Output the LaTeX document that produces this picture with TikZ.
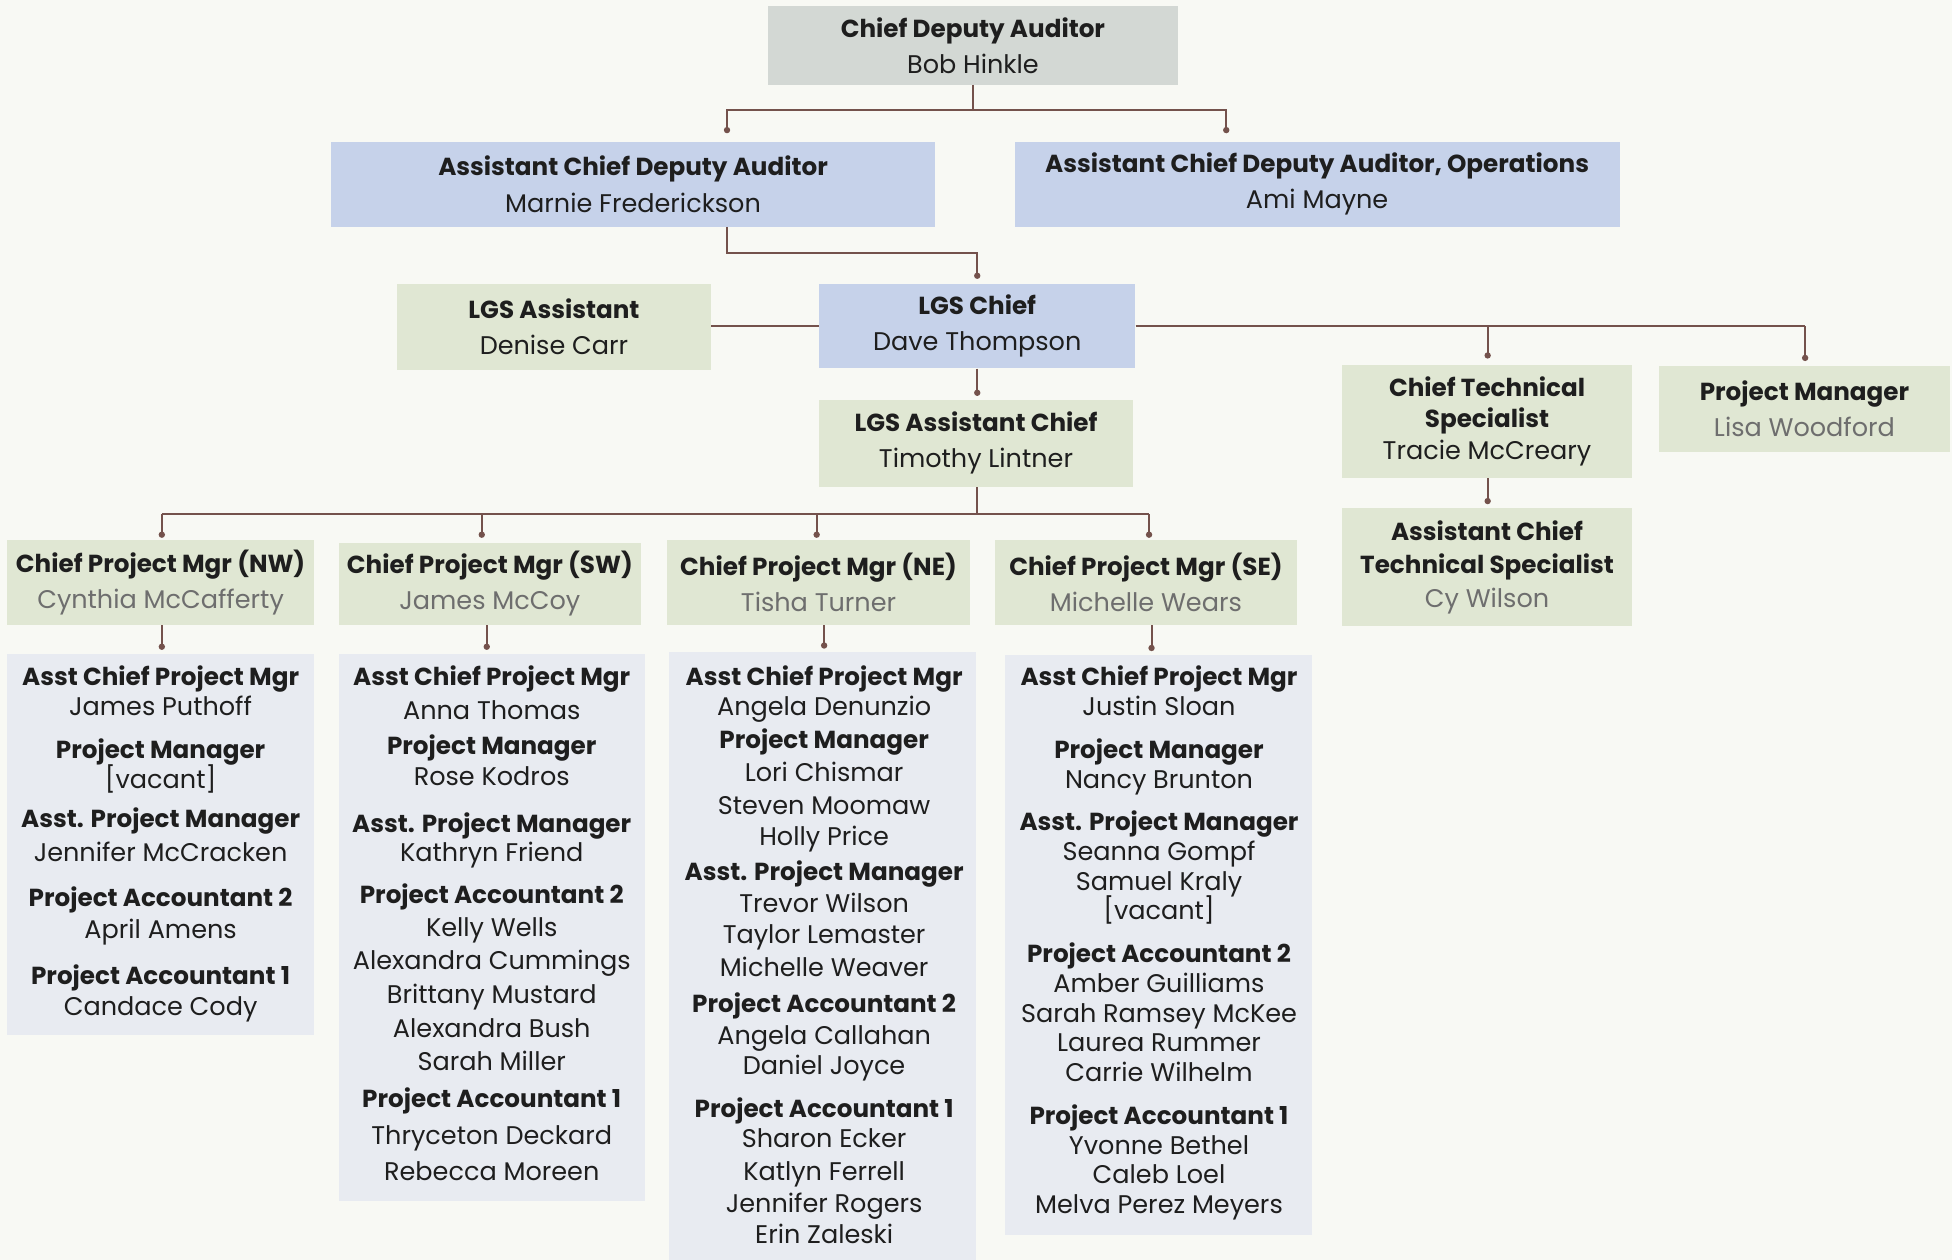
\documentclass[tikz,border=0pt]{standalone}
\usepackage{fontspec}
\setmainfont{Poppins}
\usetikzlibrary{arrows.meta}
\definecolor{bgc}{HTML}{F8F9F4}
\definecolor{topc}{HTML}{D3D8D4}
\definecolor{bluec}{HTML}{C6D2EA}
\definecolor{greenc}{HTML}{E0E7D3}
\definecolor{listc}{HTML}{E8EBF1}
\definecolor{linec}{HTML}{74524C}
\definecolor{txtc}{HTML}{1E1E1E}
\definecolor{grayt}{HTML}{6E6E6E}
\newcommand{\ttl}[1]{{\fontsize{19.8}{29}\selectfont\bfseries #1}}
\newcommand{\gn}[1]{\textcolor{grayt}{#1}}
\begin{document}
\begin{tikzpicture}[x=1pt,y=-1pt,
  box/.style={draw=none,inner sep=0pt,align=center,text=txtc,
    font=\fontsize{20.5}{29}\selectfont},
  gbox/.style={box,fill=greenc},
  bbox/.style={box,fill=bluec},
  lbox/.style={draw=none,fill=listc,inner sep=0pt},
  ltxt/.style={inner sep=0pt,anchor=base,yshift=-7pt,text=txtc,font=\fontsize{20.5}{24}\selectfont},
  conn/.style={draw=linec,line width=1.6pt,-{Circle[length=5pt,width=5pt]}},
  plain/.style={draw=linec,line width=1.6pt}]
\fill[bgc] (0,0) rectangle (1568,1012);
\useasboundingbox (0,0) rectangle (1568,1012);

% top levels
\node[box,fill=topc,minimum width=329pt,minimum height=63pt] (cda) at (781.5,36.5)
  {\ttl{Chief Deputy Auditor}\\Bob Hinkle};
\node[bbox,minimum width=485pt,minimum height=68pt] (acda) at (508.5,148)
  {\ttl{Assistant Chief Deputy Auditor}\\Marnie Frederickson};
\node[bbox,minimum width=486pt,minimum height=68pt] (acdao) at (1058,148)
  {\ttl{Assistant Chief Deputy Auditor, Operations}\\Ami Mayne};
\node[bbox,minimum width=254pt,minimum height=68pt] (lgsc) at (785,262)
  {\ttl{LGS Chief}\\Dave Thompson};
\node[gbox,minimum width=252pt,minimum height=69pt] (lgsa) at (445,262.5)
  {\ttl{LGS Assistant}\\Denise Carr};
\node[gbox,minimum width=252pt,minimum height=70pt] (lgsac) at (784,356)
  {\ttl{LGS Assistant Chief}\\Timothy Lintner};
\node[gbox,minimum width=233pt,minimum height=91pt,font=\fontsize{20.5}{25}\selectfont] (cts) at (1194.5,338.5)
  {\ttl{Chief Technical}\\\ttl{Specialist}\\Tracie McCreary};
\node[gbox,minimum width=233pt,minimum height=69pt] (pm) at (1449.5,328.5)
  {\ttl{Project Manager}\\\gn{Lisa Woodford}};
\node[gbox,minimum width=233pt,minimum height=95pt,font=\fontsize{20.5}{27}\selectfont] (acts) at (1194.5,455.5)
  {\ttl{Assistant Chief}\\\ttl{Technical Specialist}\\\gn{Cy Wilson}};

\node[gbox,minimum width=246pt,minimum height=68pt] (nw) at (129,468)
  {\ttl{Chief Project Mgr (NW)}\\\gn{Cynthia McCafferty}};
\node[gbox,minimum width=243pt,minimum height=66pt] (sw) at (393.5,469)
  {\ttl{Chief Project Mgr (SW)}\\\gn{James McCoy}};
\node[gbox,minimum width=243pt,minimum height=68pt] (ne) at (657.5,468)
  {\ttl{Chief Project Mgr (NE)}\\\gn{Tisha Turner}};
\node[gbox,minimum width=243pt,minimum height=68pt] (se) at (920.5,468)
  {\ttl{Chief Project Mgr (SE)}\\\gn{Michelle Wears}};

% list boxes
\node[lbox,minimum width=246pt,minimum height=306pt] (nwl) at (129,678) {};
\node[lbox,minimum width=246pt,minimum height=440pt] (swl) at (395,745) {};
\node[lbox,minimum width=247pt,minimum height=488pt] (nel) at (660.5,768) {};
\node[lbox,minimum width=247pt,minimum height=466pt] (sel) at (930.5,759) {};

% list texts
\foreach \t/\y [count=\i] in {
  \ttl{Asst Chief Project Mgr}/544, James Puthoff/568,
  \ttl{Project Manager}/602, {[vacant]}/626,
  \ttl{Asst. Project Manager}/658, Jennifer McCracken/685,
  \ttl{Project Accountant 2}/721, April Amens/747,
  \ttl{Project Accountant 1}/784, Candace Cody/809}
  \node[ltxt] (nwt\i) at (129,\y) {\t};

\foreach \t/\y [count=\i] in {
  \ttl{Asst Chief Project Mgr}/544, Anna Thomas/571,
  \ttl{Project Manager}/599, Rose Kodros/624,
  \ttl{Asst. Project Manager}/662, Kathryn Friend/685,
  \ttl{Project Accountant 2}/719, Kelly Wells/745,
  Alexandra Cummings/772, Brittany Mustard/799,
  Alexandra Bush/826, Sarah Miller/853,
  \ttl{Project Accountant 1}/883, Thryceton Deckard/912,
  Rebecca Moreen/941}
  \node[ltxt] (swt\i) at (395,\y) {\t};

\foreach \t/\y [count=\i] in {
  \ttl{Asst Chief Project Mgr}/544, Angela Denunzio/568,
  \ttl{Project Manager}/594, Lori Chismar/621,
  Steven Moomaw/647, Holly Price/672,
  \ttl{Asst. Project Manager}/700, Trevor Wilson/726,
  Taylor Lemaster/751, Michelle Weaver/777,
  \ttl{Project Accountant 2}/806, Angela Callahan/832,
  Daniel Joyce/856, \ttl{Project Accountant 1}/891,
  Sharon Ecker/915, Katlyn Ferrell/941,
  Jennifer Rogers/967, Erin Zaleski/992}
  \node[ltxt] (net\i) at (662,\y) {\t};

\foreach \t/\y [count=\i] in {
  \ttl{Asst Chief Project Mgr}/544, Justin Sloan/568,
  \ttl{Project Manager}/602, Nancy Brunton/626,
  \ttl{Asst. Project Manager}/660, Seanna Gompf/684,
  Samuel Kraly/708, {[vacant]}/732,
  \ttl{Project Accountant 2}/766, Amber Guilliams/790,
  Sarah Ramsey McKee/814, Laurea Rummer/838,
  Carrie Wilhelm/862, \ttl{Project Accountant 1}/896,
  Yvonne Bethel/920, Caleb Loel/944,
  Melva Perez Meyers/968}
  \node[ltxt] (set\i) at (931,\y) {\t};

% connector end points
\coordinate (e1) at (584,107);
\coordinate (e2) at (985,107);
\coordinate (e3) at (785,224);
\coordinate (e4) at (1195,288);
\coordinate (e5) at (1450,290);
\coordinate (e6) at (785,318);
\coordinate (e7) at (1195,405);
\coordinate (f1) at (130,432);
\coordinate (f2) at (387,432);
\coordinate (f3) at (656,432);
\coordinate (f4) at (923,432);
\coordinate (g1) at (130,522);
\coordinate (g2) at (391,522);
\coordinate (g3) at (662,521);
\coordinate (g4) at (925,523);
\coordinate (hb) at (785,413);

% connectors
\draw[conn] (cda.south) -- ++(0,20) -| (e1);
\draw[conn] (cda.south) ++(0,20) -| (e2);
\draw[conn] (acda.south -| e1) |- (785,203) -- (e3);
\draw[plain] (lgsc.west) -- (lgsc.west -| lgsa.east);
\draw[plain] (lgsc.east) -- (lgsc.east -| e5);
\draw[conn] (lgsc.east -| e4) -- (e4);
\draw[conn] (lgsc.east -| e5) -- (e5);
\draw[conn] (lgsc.south) -- (e6);
\draw[conn] (cts.south -| e7) -- (e7);
\draw[plain] (lgsac.south -| hb) -- (hb);
\draw[plain] (f1 |- hb) -- (f4 |- hb);
\draw[conn] (f1 |- hb) -- (f1);
\draw[conn] (f2 |- hb) -- (f2);
\draw[conn] (f3 |- hb) -- (f3);
\draw[conn] (f4 |- hb) -- (f4);
\draw[conn] (nw.south -| g1) -- (g1);
\draw[conn] (sw.south -| g2) -- (g2);
\draw[conn] (ne.south -| g3) -- (g3);
\draw[conn] (se.south -| g4) -- (g4);
\end{tikzpicture}
\end{document}
